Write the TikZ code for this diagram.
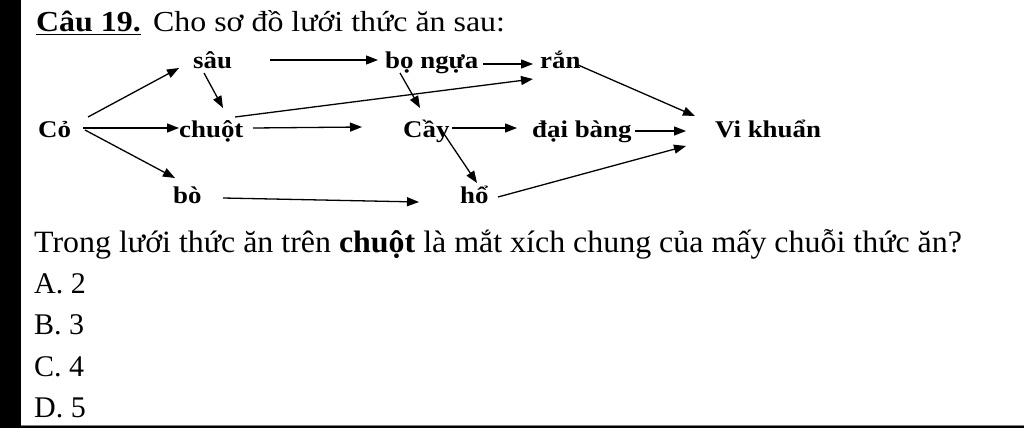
\documentclass[tikz,border=0pt]{standalone}
\usepackage{fontspec}
\setmainfont{Liberation Serif}
\newfontfamily\titlefont[FakeStretch=1.1]{Liberation Serif}
\newfontfamily\diagfont[FakeStretch=1.12]{Liberation Serif}
\newfontfamily\qfont[FakeStretch=1.03]{Liberation Serif}
\usetikzlibrary{arrows.meta,calc}
\begin{document}
\begin{tikzpicture}[x=1pt,y=-1pt,
  lbl/.style={anchor=base west,inner sep=0pt,font=\diagfont\fontsize{24}{28}\selectfont\bfseries},
  txt/.style={anchor=base west,inner sep=0pt,font=\fontsize{30}{34}\selectfont},
  qtxt/.style={anchor=base west,inner sep=0pt,font=\qfont\fontsize{31}{35}\selectfont},
  ttl/.style={anchor=base west,inner sep=0pt,font=\titlefont\fontsize{29}{33}\selectfont},
  arr/.style={line width=1.3pt,-{Triangle[length=12pt,width=9pt]}}]
\useasboundingbox (0,0) rectangle (1024,428);
\fill[black] (0,0) rectangle (21,428);
\fill[black] (0,426) rectangle (1024,428);
\draw[gray,line width=1pt] (21,425) -- (1024,425);
% title
\node[ttl] (tq) at (36,32) {\bfseries\underline{Câu 19.}};
\node[ttl] (tt) at (153,32) {Cho sơ đồ lưới thức ăn sau:};
% diagram nodes
\node[lbl] (co) at (38,137) {Cỏ};
\node[lbl] (sau) at (193,68) {sâu};
\node[lbl] (chuot) at (179,137) {chuột};
\node[lbl] (bo) at (173,203) {bò};
\node[lbl] (bongua) at (385,68) {bọ ngựa};
\node[lbl] (ran) at (540,68) {rắn};
\node[lbl] (cay) at (403,137) {Cầy};
\node[lbl] (daibang) at (532,137) {đại bàng};
\node[lbl] (ho) at (460,203) {hổ};
\node[lbl] (vk) at (715,137) {Vi khuẩn};
% arrows
\draw[arr] ($(co.base west)+(50,-20)$) -- ($(sau.base west)+(-14,0)$);
\draw[arr] ($(co.base west)+(45,-9)$) -- ($(chuot.base west)+(0,-9)$);
\draw[arr] ($(co.base west)+(47,-7)$) -- ($(bo.base west)+(2,-25)$);
\draw[arr] ($(sau.base west)+(11,5)$) -- ($(chuot.base west)+(44,-29)$);
\draw[arr] ($(sau.base west)+(77,-8)$) -- ($(bongua.base west)+(-7,-8)$);
\draw[arr] ($(chuot.base west)+(56,-20)$) -- ($(ran.base west)+(-7,11)$);
\draw[arr] ($(chuot.base west)+(74,-9)$) -- ($(cay.base west)+(-41,-10)$);
\draw[arr] ($(bo.base west)+(50,-5)$) -- ($(ho.base west)+(-41,-1)$);
\draw[arr] ($(bongua.base west)+(98,-4)$) -- ($(ran.base west)+(-7,-4)$);
\draw[arr] ($(bongua.base west)+(15,5)$) -- ($(cay.base west)+(17,-29)$);
\draw[arr] ($(cay.base west)+(49,-9)$) -- ($(daibang.base west)+(-15,-9)$);
\draw[arr] ($(cay.base west)+(37,-9)$) -- ($(ho.base west)+(17,-20)$);
\draw[arr] ($(ran.base west)+(38,-3)$) -- ($(vk.base west)+(-20,-21)$);
\draw[arr] ($(daibang.base west)+(103,-6)$) -- ($(vk.base west)+(-29,-6)$);
\draw[arr] ($(ho.base west)+(38,-6)$) -- ($(vk.base west)+(-29,9)$);
% question
\node[qtxt] (q) at (34,252) {Trong lưới thức ăn trên \textbf{chuột} là mắt xích chung của mấy chuỗi thức ăn?};
\node[txt] (oa) at (34,293) {A. 2};
\node[txt] (ob) at (34,334) {B. 3};
\node[txt] (oc) at (34,376) {C. 4};
\node[txt] (od) at (34,417) {D. 5};
\end{tikzpicture}
\end{document}
